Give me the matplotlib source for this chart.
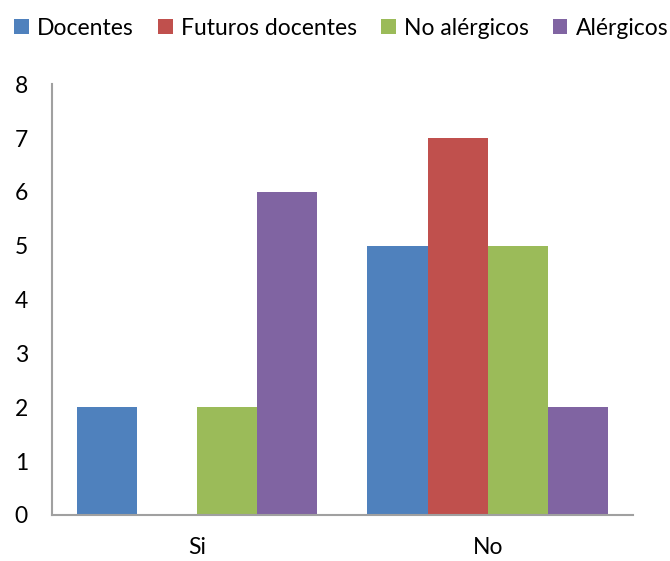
import numpy as np
import matplotlib.pyplot as plt

plt.rcParams["font.family"] = ["Lato", "DejaVu Sans"]

categories = ["Si", "No"]
series = ["Docentes", "Futuros docentes", "No alérgicos", "Alérgicos"]
docentes = [2, 5]
futuros_docentes = [0, 7]
no_alergicos = [2, 5]
alergicos = [6, 2]
colors = ["#4F81BD", "#C0504D", "#9BBB59", "#8064A2"]

values = [docentes, futuros_docentes, no_alergicos, alergicos]

fig = plt.figure(figsize=(6.7, 5.61), dpi=100)
ax = fig.add_axes([0.077, 0.082, 0.868, 0.768])

x = np.arange(len(categories))
width = 0.207
for i, (name, vals, c) in enumerate(zip(series, values, colors)):
    ax.bar(x + (i - 1.5) * width, vals, width, color=c, label=name)

ax.set_xlim(-0.5, 1.5)
ax.set_ylim(0, 8)
ax.set_xticks(x)
ax.set_xticklabels(categories)
ax.set_yticks(range(9))
ax.tick_params(axis="y", length=0, labelsize=16.5, pad=17)
ax.tick_params(axis="x", length=0, labelsize=16.5, pad=16)

for side in ["top", "right"]:
    ax.spines[side].set_visible(False)
for side in ["left", "bottom"]:
    ax.spines[side].set_color("#A0A0A0")
    ax.spines[side].set_linewidth(1.5)

fig.legend(loc="center", bbox_to_anchor=(0.509, 0.95), ncol=4, frameon=False,
           fontsize=16.5, handlelength=0.65, handleheight=0.65, handletextpad=0.35,
           columnspacing=1.05, borderaxespad=0.0)

plt.savefig("out.png", dpi=100)
